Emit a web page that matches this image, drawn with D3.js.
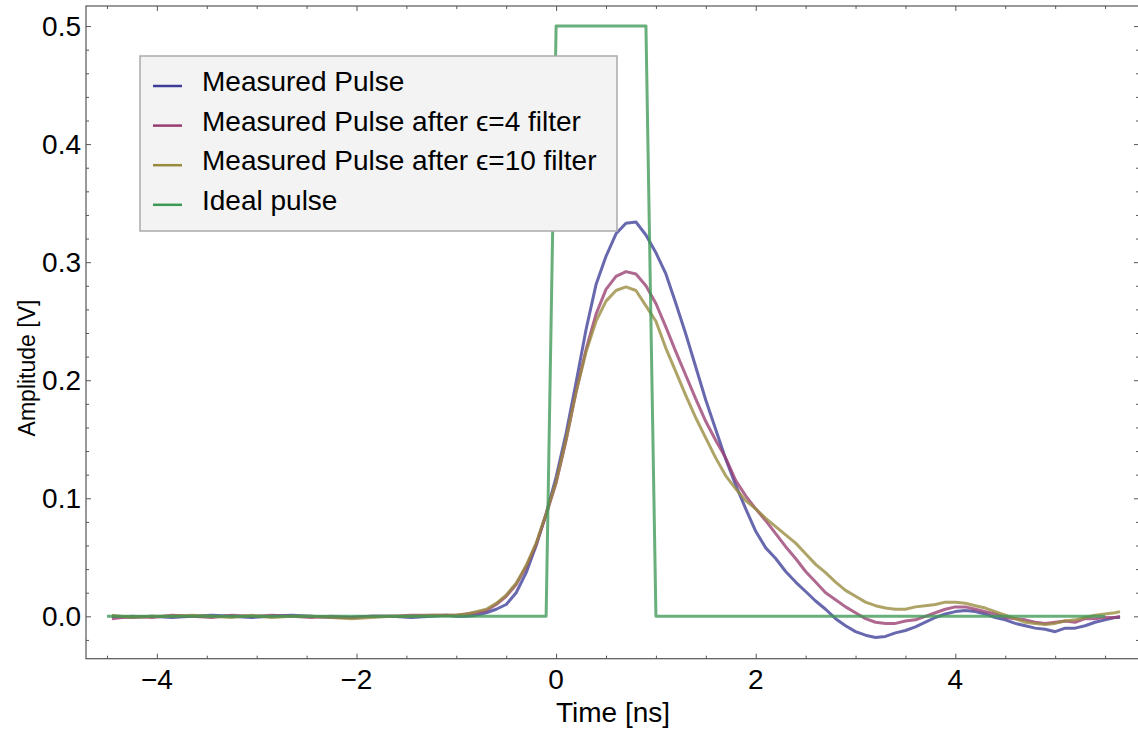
<!DOCTYPE html>
<html>
<head>
<meta charset="utf-8">
<script src="https://cdn.jsdelivr.net/npm/d3@7"></script>
<style>
  body { margin: 0; background: #fff; }
  svg { display: block; font-family: "Liberation Sans", Arial, sans-serif; }
</style>
</head>
<body>
<svg id="chart" width="1138" height="733"></svg>
<script>
// sample times of the measured traces (ns)
var measTime = [-4.45, -4.25, -4.05, -3.85, -3.65, -3.45, -3.25, -3.05, -2.85, -2.65,
  -2.45, -2.25, -2.05, -1.85, -1.65, -1.45, -1.25, -1.1,
  -1.0, -0.9, -0.8, -0.7, -0.6, -0.5, -0.4, -0.3, -0.2, -0.1,
  0.0, 0.1, 0.2, 0.3, 0.4, 0.5, 0.6, 0.7, 0.8, 0.9,
  1.0, 1.1, 1.2, 1.3, 1.4, 1.5, 1.6, 1.7, 1.8, 1.9,
  2.0, 2.1, 2.2, 2.3, 2.4, 2.5, 2.6, 2.7, 2.8, 2.9,
  3.0, 3.1, 3.2, 3.3, 3.4, 3.5, 3.6, 3.7, 3.8, 3.9,
  4.0, 4.1, 4.2, 4.3, 4.4, 4.5, 4.6, 4.7, 4.8, 4.9,
  5.0, 5.1, 5.2, 5.3, 5.4, 5.5, 5.6, 5.65];

var measured = [0.000, -0.001, 0.000, -0.001, 0.000, 0.001, 0.000, -0.001, 0.000, 0.001,
  0.000, -0.001, -0.001, 0.000, 0.000, -0.001, 0.000, 0.001,
  0.000, 0.000, 0.001, 0.003, 0.006, 0.010, 0.020, 0.037, 0.060, 0.087,
  0.118, 0.155, 0.198, 0.243, 0.281, 0.305, 0.324, 0.333, 0.334, 0.323,
  0.308, 0.290, 0.265, 0.239, 0.211, 0.183, 0.158, 0.133, 0.111, 0.091,
  0.072, 0.058, 0.049, 0.038, 0.029, 0.021, 0.013, 0.006, -0.002, -0.008,
  -0.013, -0.016, -0.018, -0.017, -0.014, -0.012, -0.009, -0.005, -0.001, 0.002,
  0.004, 0.005, 0.004, 0.002, -0.001, -0.003, -0.006, -0.008, -0.010, -0.011,
  -0.013, -0.010, -0.010, -0.008, -0.005, -0.003, -0.001, -0.001];

var filtered4 = [-0.002, 0.000, -0.001, 0.001, 0.000, -0.001, 0.001, 0.000, 0.001, 0.000,
  -0.001, 0.000, -0.001, 0.000, 0.000, 0.001, 0.001, 0.001,
  0.001, 0.002, 0.003, 0.005, 0.010, 0.017, 0.027, 0.042, 0.061, 0.086,
  0.113, 0.149, 0.190, 0.226, 0.256, 0.277, 0.288, 0.292, 0.290, 0.280,
  0.265, 0.245, 0.224, 0.204, 0.184, 0.165, 0.149, 0.134, 0.115, 0.102,
  0.091, 0.081, 0.070, 0.059, 0.049, 0.038, 0.029, 0.020, 0.014, 0.008,
  0.003, -0.002, -0.005, -0.006, -0.006, -0.004, -0.003, 0.000, 0.003, 0.006,
  0.008, 0.008, 0.006, 0.004, 0.002, -0.001, -0.002, -0.003, -0.005, -0.006,
  -0.005, -0.004, -0.005, -0.002, -0.002, -0.001, -0.001, 0.000];

var filtered10 = [0.001, -0.001, 0.000, 0.000, 0.001, 0.000, -0.001, 0.001, -0.001, 0.000,
  0.000, -0.001, -0.002, -0.001, 0.000, 0.000, 0.001, 0.001,
  0.001, 0.002, 0.004, 0.006, 0.011, 0.018, 0.028, 0.043, 0.062, 0.087,
  0.114, 0.150, 0.190, 0.224, 0.250, 0.267, 0.276, 0.279, 0.276, 0.263,
  0.250, 0.227, 0.207, 0.187, 0.168, 0.151, 0.134, 0.119, 0.108, 0.098,
  0.091, 0.083, 0.076, 0.069, 0.062, 0.053, 0.044, 0.037, 0.029, 0.022,
  0.017, 0.012, 0.009, 0.007, 0.006, 0.006, 0.008, 0.009, 0.010, 0.012,
  0.012, 0.011, 0.009, 0.007, 0.004, 0.001, -0.002, -0.005, -0.006, -0.007,
  -0.006, -0.004, -0.003, -0.001, 0.001, 0.002, 0.003, 0.004];

// ideal square pulse
var idealTime = [-4.5, -0.1, 0.0, 0.9, 1.0, 5.5];
var idealValue = [0, 0, 0.5, 0.5, 0, 0];

var seriesNames = ['Measured Pulse', 'Measured Pulse after \u03f5=4 filter',
  'Measured Pulse after \u03f5=10 filter', 'Ideal pulse'];
var seriesColors = ['#3d3d99', '#993d71', '#998b3d', '#3d9956'];

var xTicks = [-4, -2, 0, 2, 4];
var yTicks = [0.0, 0.1, 0.2, 0.3, 0.4, 0.5];

var svg = d3.select('#chart');
var margin = { left: 86, top: 6, right: -1, bottom: 75 };
var W = 1138, H = 733;

var x = d3.scaleLinear().domain([-4.71, 5.84]).range([margin.left, W - margin.right]);
var y = d3.scaleLinear().domain([-0.0359, 0.517]).range([H - margin.bottom + 0.7, margin.top]);

var series = [
  measTime.map((t, i) => [t, measured[i]]),
  measTime.map((t, i) => [t, filtered4[i]]),
  measTime.map((t, i) => [t, filtered10[i]]),
  idealTime.map((t, i) => [t, idealValue[i]])
];

var line = d3.line().x(d => x(d[0])).y(d => y(d[1]));

svg.append('g')
  .selectAll('path')
  .data(series)
  .enter()
  .append('path')
  .attr('d', line)
  .attr('fill', 'none')
  .attr('stroke', (d, i) => seriesColors[i])
  .attr('stroke-opacity', 0.78)
  .attr('stroke-width', 3)
  .attr('stroke-linejoin', 'round');

// frame with ticks on all four sides
var frameColor = '#555';
var x0 = x.range()[0], x1 = x.range()[1], y0 = y.range()[0], y1 = y.range()[1];

var minorX = d3.range(-4.5, 5.8, 0.5).filter(v => Math.abs(v % 2) > 0.01);
var minorY = d3.range(-0.02, 0.52, 0.02).filter(v => Math.abs(Math.round(v * 50) % 5) !== 0);

function tickAxis(axisFn, scale, vals, len, transform) {
  return svg.append('g')
    .attr('transform', transform)
    .call(axisFn(scale).tickValues(vals).tickSize(len).tickFormat(''))
    .call(g => g.select('.domain').remove())
    .call(g => g.selectAll('line').attr('stroke', frameColor));
}

// bottom / top
tickAxis(d3.axisTop, x, xTicks, 5, `translate(0,${y0})`);
tickAxis(d3.axisTop, x, minorX, 3, `translate(0,${y0})`);
tickAxis(d3.axisBottom, x, xTicks, 5, `translate(0,${y1})`);
tickAxis(d3.axisBottom, x, minorX, 3, `translate(0,${y1})`);
// left / right
tickAxis(d3.axisRight, y, yTicks, 5, `translate(${x0},0)`);
tickAxis(d3.axisRight, y, minorY, 3, `translate(${x0},0)`);
tickAxis(d3.axisLeft, y, yTicks, 5, `translate(${x1},0)`);
tickAxis(d3.axisLeft, y, minorY, 3, `translate(${x1},0)`);

svg.append('rect')
  .attr('x', x0).attr('y', y1)
  .attr('width', x1 - x0).attr('height', y0 - y1)
  .attr('fill', 'none')
  .attr('stroke', frameColor)
  .attr('stroke-width', 1.2);

// tick labels
svg.append('g')
  .selectAll('text')
  .data(xTicks)
  .enter()
  .append('text')
  .attr('x', d => x(d))
  .attr('y', y0 + 30)
  .attr('text-anchor', 'middle')
  .attr('font-size', 28)
  .text(d => d < 0 ? '\u2212' + Math.abs(d) : d);

svg.append('g')
  .selectAll('text')
  .data(yTicks)
  .enter()
  .append('text')
  .attr('x', x0 - 5)
  .attr('y', d => y(d))
  .attr('dy', '0.36em')
  .attr('text-anchor', 'end')
  .attr('font-size', 28)
  .text(d => d.toFixed(1));

// axis titles
svg.append('text')
  .attr('x', 613)
  .attr('y', 722)
  .attr('text-anchor', 'middle')
  .attr('font-size', 28)
  .text('Time [ns]');

svg.append('text')
  .attr('transform', 'translate(35,368) rotate(-90)')
  .attr('text-anchor', 'middle')
  .attr('font-size', 23)
  .text('Amplitude [V]');

// legend
var legend = svg.append('g').attr('transform', 'translate(140,56)');
legend.append('rect')
  .attr('width', 477)
  .attr('height', 175)
  .attr('fill', '#f3f3f3')
  .attr('stroke', '#aaa')
  .attr('stroke-width', 1.5);

var rows = legend.selectAll('g.row')
  .data(seriesNames)
  .enter()
  .append('g')
  .attr('class', 'row')
  .attr('transform', (d, i) => `translate(0,${30 + i * 39.6})`);

rows.append('line')
  .attr('x1', 13).attr('x2', 42)
  .attr('stroke', (d, i) => seriesColors[i])
  .attr('stroke-width', 2.5);

rows.append('text')
  .attr('x', 62)
  .attr('y', 5)
  .attr('font-size', 28)
  .text(d => d);
</script>
</body>
</html>
